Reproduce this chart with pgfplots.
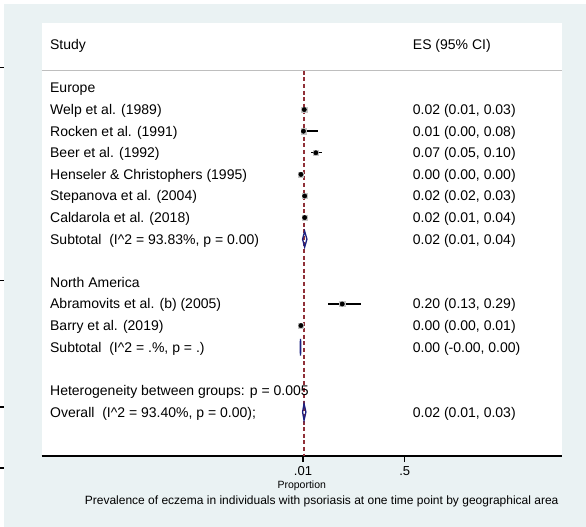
\documentclass[border=0pt]{standalone}
\usepackage{fontspec}
\setmainfont{Liberation Sans}
\usepackage{pgfplots}
\pgfplotsset{compat=1.18}
\definecolor{bgc}{RGB}{234,242,243}
\definecolor{maroonc}{RGB}{144,48,56}
\definecolor{navyc}{RGB}{28,32,128}
\definecolor{hdr}{RGB}{190,190,190}
\tikzset{rowtext/.style={anchor=base west, font=\fontsize{14}{16}\selectfont, inner sep=0pt, yshift=-5pt}}
\begin{document}
\begin{tikzpicture}
\path[use as bounding box] (-41.7pt,-71pt) rectangle (544.3pt,456pt);
\fill[bgc] (-37.7pt,-71pt) rectangle (544.3pt,452pt);
\fill[white] (0,0) rectangle (520.3pt,433.3pt);
\foreach \yy in {388.3,175.3,49,-12} \draw[line width=1.3pt] (-41.7pt,\yy pt) -- (-37.7pt,\yy pt);
\begin{axis}[
  width=520.3pt, height=433.3pt, scale only axis,
  xmin=-1.249, xmax=1.258, ymin=-2.037, ymax=18.023,
  axis x line*=bottom, axis y line=none,
  x axis line style={line width=1.5pt, black},
  xtick={0.01,0.5}, xticklabels={.01,.5},
  ytick=\empty,
  tick align=outside, major tick length=6pt,
  x tick style={line width=1.3pt, black},
  xticklabel style={font=\fontsize{13}{15}\selectfont, yshift=-1pt},
  clip=false,
]
% header rule
\draw[hdr, line width=1.5pt] (axis cs:-1.249,15.8) -- (axis cs:1.258,15.8);
% overall estimate line
\addplot[maroonc, line width=1.5pt, dash pattern=on 4pt off 2.6pt] coordinates {(0.015,15.8) (0.015,-2.037)};
% weight boxes
\addplot[only marks, mark=square*, mark size=2.6pt, color=gray!45] coordinates {
(0.016,14) (0.012,13) (0.072,12) (0.00,11) (0.018,10) (0.018,9) (0.199,5) (0.00,4)};
% study estimates with CI
\addplot[only marks, mark=*, mark size=2.2pt, black,
  error bars/.cd, x dir=both, x explicit, error mark=none,
  error bar style={line width=1.4pt, black}] coordinates {
(0.016,14) += (0.012,0) -= (0.006,0)
(0.012,13) += (0.070,0) -= (0.010,0)
(0.072,12) += (0.028,0) -= (0.022,0)
(0.00,11) += (0.002,0) -= (0.0,0)
(0.018,10) += (0.008,0) -= (0.002,0)
(0.018,9) += (0.018,0) -= (0.008,0)
(0.199,5) += (0.09,0) -= (0.07,0)
(0.00,4) += (0.008,0) -= (0.0,0)
};
% pooled diamonds
\addplot[navyc, line width=1.3pt] coordinates {(0.008,8) (0.018,8.37) (0.029,8) (0.018,7.63)} -- cycle;
\addplot[navyc, line width=1.4pt] coordinates {(-0.003,3) (-0.002,3.385) (-0.001,3) (-0.002,2.615)} -- cycle;
\addplot[navyc, line width=1.3pt] coordinates {(0.008,0) (0.015,0.385) (0.024,0) (0.015,-0.385)} -- cycle;
% left column
\node[rowtext] at (axis cs:-1.2092,17) {Study};
\node[rowtext] at (axis cs:-1.2092,15) {Europe};
\node[rowtext] at (axis cs:-1.2092,14) {Welp et al. (1989)};
\node[rowtext] at (axis cs:-1.2092,13) {Rocken et al. (1991)};
\node[rowtext] at (axis cs:-1.2092,12) {Beer et al. (1992)};
\node[rowtext] at (axis cs:-1.2092,11) {Henseler \& Christophers (1995)};
\node[rowtext] at (axis cs:-1.2092,10) {Stepanova et al. (2004)};
\node[rowtext] at (axis cs:-1.2092,9) {Caldarola et al. (2018)};
\node[rowtext] at (axis cs:-1.2092,8) {Subtotal\ \ (I\textasciicircum 2 = 93.83\%, p = 0.00)};
\node[rowtext] at (axis cs:-1.2092,6) {North America};
\node[rowtext] at (axis cs:-1.2092,5) {Abramovits et al. (b) (2005)};
\node[rowtext] at (axis cs:-1.2092,4) {Barry et al. (2019)};
\node[rowtext] at (axis cs:-1.2092,3) {Subtotal\ \ (I\textasciicircum 2 = .\%, p = .)};
\node[rowtext] at (axis cs:-1.2092,1) {Heterogeneity between groups: p = 0.005};
\node[rowtext] at (axis cs:-1.2092,0) {Overall\ \ (I\textasciicircum 2 = 93.40\%, p = 0.00);};
% right column
\node[rowtext] at (axis cs:0.5388,17) {ES (95\% CI)};
\node[rowtext] at (axis cs:0.5388,14) {0.02 (0.01, 0.03)};
\node[rowtext] at (axis cs:0.5388,13) {0.01 (0.00, 0.08)};
\node[rowtext] at (axis cs:0.5388,12) {0.07 (0.05, 0.10)};
\node[rowtext] at (axis cs:0.5388,11) {0.00 (0.00, 0.00)};
\node[rowtext] at (axis cs:0.5388,10) {0.02 (0.02, 0.03)};
\node[rowtext] at (axis cs:0.5388,9) {0.02 (0.01, 0.04)};
\node[rowtext] at (axis cs:0.5388,8) {0.02 (0.01, 0.04)};
\node[rowtext] at (axis cs:0.5388,5) {0.20 (0.13, 0.29)};
\node[rowtext] at (axis cs:0.5388,4) {0.00 (0.00, 0.01)};
\node[rowtext] at (axis cs:0.5388,3) {0.00 (-0.00, 0.00)};
\node[rowtext] at (axis cs:0.5388,0) {0.02 (0.01, 0.03)};
% axis title and caption
\node[font=\fontsize{10.5}{12}\selectfont] at (axis cs:0.004,-3.41) {Proportion};
\node[font=\fontsize{12}{14}\selectfont] at (axis cs:0.1,-4.12) {Prevalence of eczema in individuals with psoriasis at one time point by geographical area};
\end{axis}
\end{tikzpicture}
\end{document}
